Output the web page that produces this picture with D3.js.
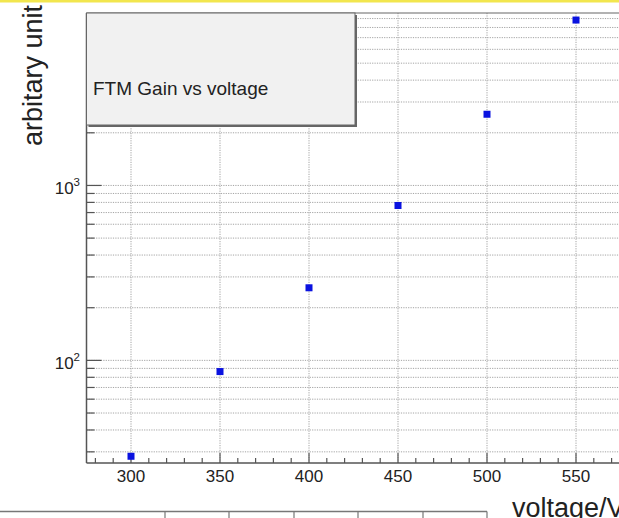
<!DOCTYPE html>
<html><head><meta charset="utf-8">
<script src="https://cdn.jsdelivr.net/npm/d3@7"></script>
<style>
html,body{margin:0;padding:0;background:#fff;overflow:hidden}
svg{display:block}
text{font-family:"Liberation Sans",Arial,Helvetica,sans-serif;fill:#222}
</style></head><body>
<svg id="c" width="619" height="518"></svg>
<script>
const voltages = [300, 350, 400, 450, 500, 550];
const gains = [28.3, 86.3, 260, 768, 2553, 8823];
const xTickLabels = ["300", "350", "400", "450", "500", "550"];
const yDecades = [100, 1000];
const legendText = "FTM Gain vs voltage";
const xTitle = "voltage/V";
const yTitle = "arbitary unit";

const svg = d3.select("#c");
const L = 86.5, T = 13, B = 463, R = 620.5;
const x = d3.scaleLinear().domain([275, 575]).range([L, R]);
const y = d3.scaleLog().domain([25.9, 9680]).range([B, T]);

// top yellow strip
svg.append("rect").attr("x",0).attr("y",0).attr("width",619).attr("height",2.5).attr("fill","#f2e64e");

// grid
const g = svg.append("g");
const logTicks = [];
for (let d = 10; d <= 1000; d *= 10) for (let m = 1; m <= 9; m++) { const v = d*m; if (v >= 25.9 && v <= 9680) logTicks.push(v); }
g.selectAll(".hg").data(logTicks).join("line")
  .attr("x1", L).attr("x2", R).attr("y1", d => y(d)).attr("y2", d => y(d))
  .attr("stroke", "#9a9a9a").attr("stroke-width", 0.9).attr("stroke-dasharray", "1.2,1.2");
g.selectAll(".vg").data(voltages).join("line")
  .attr("y1", T).attr("y2", B).attr("x1", d => x(d)).attr("x2", d => x(d))
  .attr("stroke", "#9a9a9a").attr("stroke-width", 0.9).attr("stroke-dasharray", "1.2,1.2");

// frame top
svg.append("line").attr("x1",L).attr("x2",R).attr("y1",T).attr("y2",T).attr("stroke","#666").attr("stroke-width",1.2);

// x axis
const xMinor = d3.range(280, 576, 10);
svg.selectAll(".xm").data(xMinor).join("line")
  .attr("x1", d => x(d)).attr("x2", d => x(d))
  .attr("y1", B).attr("y2", d => d % 50 === 0 ? B - 10 : B - 5)
  .attr("stroke", "#555").attr("stroke-width", 1.2);
svg.append("line").attr("x1",L).attr("x2",R).attr("y1",B).attr("y2",B).attr("stroke","#555").attr("stroke-width",1.5);
svg.selectAll(".xl").data(voltages).join("text")
  .attr("x", d => x(d)).attr("y", 482).attr("text-anchor","middle")
  .attr("font-size", 17).text((d,i) => xTickLabels[i]);

// y axis
svg.selectAll(".ym").data(logTicks).join("line")
  .attr("y1", d => y(d)).attr("y2", d => y(d))
  .attr("x1", L).attr("x2", d => yDecades.includes(d) ? L + 15 : L + 8)
  .attr("stroke", "#555").attr("stroke-width", 1.2);
svg.append("line").attr("x1",L).attr("x2",L).attr("y1",T).attr("y2",B).attr("stroke","#555").attr("stroke-width",1.5);
yDecades.forEach(d => {
  const t = svg.append("text").attr("x", 80).attr("y", y(d) + 9).attr("text-anchor","end").attr("font-size", 17);
  t.append("tspan").text("10");
  t.append("tspan").attr("dy", -8).attr("font-size", 11.5).text(String(Math.round(Math.log10(d))));
});

// legend box
svg.append("rect").attr("x", L+2).attr("y", T+2).attr("width", 268.5).attr("height", 112).attr("fill","#666");
svg.append("rect").attr("x", L).attr("y", T).attr("width", 268.5).attr("height", 112)
  .attr("fill","#f1f1f1").attr("stroke","#666").attr("stroke-width",1);
svg.append("text").attr("x", 93).attr("y", 95).attr("font-size", 19).text(legendText);

// points
svg.selectAll(".pt").data(voltages).join("rect")
  .attr("x", d => x(d) - 3.5).attr("y", (d,i) => y(gains[i]) - 3.5)
  .attr("width", 7).attr("height", 7).attr("fill", "#0a12e0");

// titles
svg.append("text").attr("transform","translate(42,5) rotate(-90)").attr("text-anchor","end")
  .attr("font-size", 27).text(yTitle);
svg.append("text").attr("x", 512).attr("y", 517).attr("font-size", 27).text(xTitle);

// bottom box fragment
const botDiv = [165, 229, 294, 358, 423, 487];
svg.append("line").attr("x1",0).attr("x2",487).attr("y1",511.5).attr("y2",511.5).attr("stroke","#777").attr("stroke-width",1.3);
svg.selectAll(".bd").data(botDiv).join("line")
  .attr("x1", d => d).attr("x2", d => d).attr("y1", 511.5).attr("y2", 518)
  .attr("stroke", "#777").attr("stroke-width", 1.2);
</script></body></html>
